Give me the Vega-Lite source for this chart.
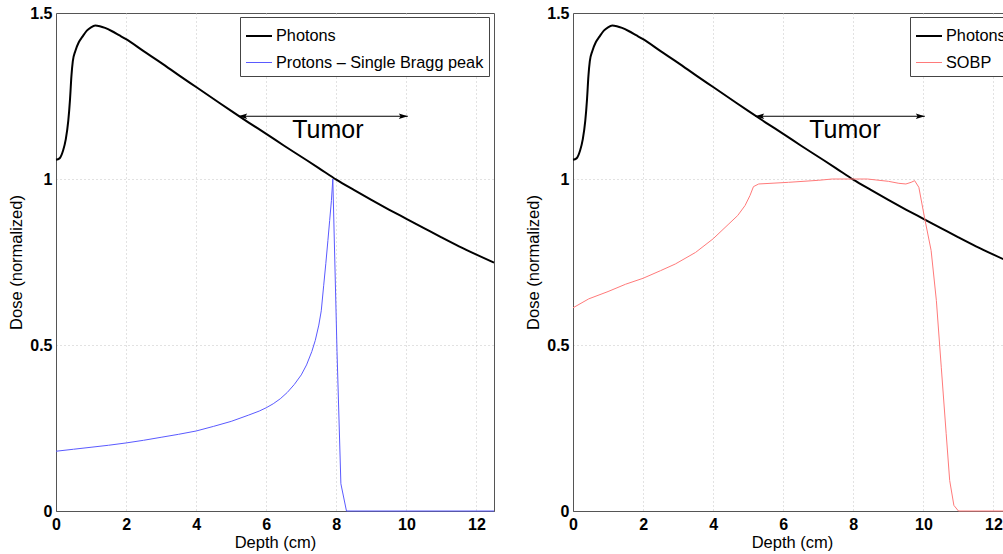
{
  "$schema": "https://vega.github.io/schema/vega-lite/v6.json",
  "background": "white",
  "padding": {"left": 8, "top": 4, "right": 0, "bottom": 0},
  "bounds": "flush",
  "spacing": 79,
  "config": {
    "font": "Liberation Sans",
    "view": {"stroke": "#555", "strokeWidth": 1},
    "axis": {
      "domainColor": "#555",
      "grid": true,
      "gridColor": "#c4c4c4",
      "gridDash": [1, 3],
      "ticks": false,
      "labelFlush": false,
      "labelFont": "Liberation Sans",
      "labelFontSize": 16,
      "labelFontWeight": "bold",
      "labelColor": "#000",
      "titleFont": "Liberation Sans",
      "titleFontSize": 16.5,
      "titleFontWeight": "normal",
      "titleColor": "#000"
    },
    "legend": {
      "symbolType": "stroke",
      "symbolSize": 676,
      "labelFont": "Liberation Sans",
      "labelFontSize": 16.3,
      "labelLimit": 0,
      "labelColor": "#000",
      "strokeColor": "#444",
      "fillColor": "#fff",
      "padding": 5,
      "rowPadding": 4,
      "labelOffset": 3,
      "cornerRadius": 0
    }
  },
  "datasets": {
    "photons": [
      {"depth": 0, "dose": 1.058, "series": "Photons"},
      {"depth": 0.1, "dose": 1.062, "series": "Photons"},
      {"depth": 0.2, "dose": 1.085, "series": "Photons"},
      {"depth": 0.28, "dose": 1.12, "series": "Photons"},
      {"depth": 0.35, "dose": 1.175, "series": "Photons"},
      {"depth": 0.4, "dose": 1.24, "series": "Photons"},
      {"depth": 0.44, "dose": 1.31, "series": "Photons"},
      {"depth": 0.48, "dose": 1.355, "series": "Photons"},
      {"depth": 0.55, "dose": 1.385, "series": "Photons"},
      {"depth": 0.65, "dose": 1.412, "series": "Photons"},
      {"depth": 0.75, "dose": 1.428, "series": "Photons"},
      {"depth": 0.88, "dose": 1.447, "series": "Photons"},
      {"depth": 1.0, "dose": 1.457, "series": "Photons"},
      {"depth": 1.12, "dose": 1.462, "series": "Photons"},
      {"depth": 1.25, "dose": 1.46, "series": "Photons"},
      {"depth": 1.4, "dose": 1.455, "series": "Photons"},
      {"depth": 1.6, "dose": 1.445, "series": "Photons"},
      {"depth": 1.8, "dose": 1.433, "series": "Photons"},
      {"depth": 2.0, "dose": 1.421, "series": "Photons"},
      {"depth": 2.5, "dose": 1.385, "series": "Photons"},
      {"depth": 3.0, "dose": 1.35, "series": "Photons"},
      {"depth": 3.5, "dose": 1.313, "series": "Photons"},
      {"depth": 4.0, "dose": 1.277, "series": "Photons"},
      {"depth": 4.5, "dose": 1.241, "series": "Photons"},
      {"depth": 5.0, "dose": 1.205, "series": "Photons"},
      {"depth": 5.5, "dose": 1.17, "series": "Photons"},
      {"depth": 6.0, "dose": 1.136, "series": "Photons"},
      {"depth": 6.5, "dose": 1.101, "series": "Photons"},
      {"depth": 7.0, "dose": 1.067, "series": "Photons"},
      {"depth": 7.5, "dose": 1.033, "series": "Photons"},
      {"depth": 8.0, "dose": 0.998, "series": "Photons"},
      {"depth": 8.5, "dose": 0.967, "series": "Photons"},
      {"depth": 9.0, "dose": 0.937, "series": "Photons"},
      {"depth": 9.5, "dose": 0.908, "series": "Photons"},
      {"depth": 10.0, "dose": 0.88, "series": "Photons"},
      {"depth": 10.5, "dose": 0.852, "series": "Photons"},
      {"depth": 11.0, "dose": 0.824, "series": "Photons"},
      {"depth": 11.5, "dose": 0.797, "series": "Photons"},
      {"depth": 12.0, "dose": 0.772, "series": "Photons"},
      {"depth": 12.5, "dose": 0.748, "series": "Photons"}
    ],
    "protons": [
      {"depth": 0, "dose": 0.18, "series": "Protons – Single Bragg peak"},
      {"depth": 0.5, "dose": 0.186, "series": "Protons – Single Bragg peak"},
      {"depth": 1, "dose": 0.192, "series": "Protons – Single Bragg peak"},
      {"depth": 1.5, "dose": 0.198, "series": "Protons – Single Bragg peak"},
      {"depth": 2, "dose": 0.205, "series": "Protons – Single Bragg peak"},
      {"depth": 2.5, "dose": 0.213, "series": "Protons – Single Bragg peak"},
      {"depth": 3, "dose": 0.222, "series": "Protons – Single Bragg peak"},
      {"depth": 3.5, "dose": 0.231, "series": "Protons – Single Bragg peak"},
      {"depth": 4, "dose": 0.241, "series": "Protons – Single Bragg peak"},
      {"depth": 4.5, "dose": 0.255, "series": "Protons – Single Bragg peak"},
      {"depth": 5, "dose": 0.27, "series": "Protons – Single Bragg peak"},
      {"depth": 5.5, "dose": 0.289, "series": "Protons – Single Bragg peak"},
      {"depth": 5.8, "dose": 0.301, "series": "Protons – Single Bragg peak"},
      {"depth": 6, "dose": 0.311, "series": "Protons – Single Bragg peak"},
      {"depth": 6.2, "dose": 0.323, "series": "Protons – Single Bragg peak"},
      {"depth": 6.4, "dose": 0.338, "series": "Protons – Single Bragg peak"},
      {"depth": 6.6, "dose": 0.357, "series": "Protons – Single Bragg peak"},
      {"depth": 6.8, "dose": 0.381, "series": "Protons – Single Bragg peak"},
      {"depth": 7.0, "dose": 0.41, "series": "Protons – Single Bragg peak"},
      {"depth": 7.15, "dose": 0.44, "series": "Protons – Single Bragg peak"},
      {"depth": 7.3, "dose": 0.48, "series": "Protons – Single Bragg peak"},
      {"depth": 7.4, "dose": 0.514, "series": "Protons – Single Bragg peak"},
      {"depth": 7.5, "dose": 0.56, "series": "Protons – Single Bragg peak"},
      {"depth": 7.57, "dose": 0.603, "series": "Protons – Single Bragg peak"},
      {"depth": 7.64, "dose": 0.68, "series": "Protons – Single Bragg peak"},
      {"depth": 7.7, "dose": 0.745, "series": "Protons – Single Bragg peak"},
      {"depth": 7.76, "dose": 0.815, "series": "Protons – Single Bragg peak"},
      {"depth": 7.81, "dose": 0.875, "series": "Protons – Single Bragg peak"},
      {"depth": 7.86, "dose": 0.935, "series": "Protons – Single Bragg peak"},
      {"depth": 7.9, "dose": 1.0, "series": "Protons – Single Bragg peak"},
      {"depth": 8.02, "dose": 0.48, "series": "Protons – Single Bragg peak"},
      {"depth": 8.13, "dose": 0.082, "series": "Protons – Single Bragg peak"},
      {"depth": 8.29, "dose": 0, "series": "Protons – Single Bragg peak"},
      {"depth": 12.5, "dose": 0, "series": "Protons – Single Bragg peak"}
    ],
    "sobp": [
      {"depth": 0, "dose": 0.612, "series": "SOBP"},
      {"depth": 0.45, "dose": 0.639, "series": "SOBP"},
      {"depth": 1, "dose": 0.661, "series": "SOBP"},
      {"depth": 1.5, "dose": 0.683, "series": "SOBP"},
      {"depth": 2, "dose": 0.701, "series": "SOBP"},
      {"depth": 2.5, "dose": 0.724, "series": "SOBP"},
      {"depth": 2.92, "dose": 0.744, "series": "SOBP"},
      {"depth": 3.5, "dose": 0.779, "series": "SOBP"},
      {"depth": 4, "dose": 0.82, "series": "SOBP"},
      {"depth": 4.45, "dose": 0.865, "series": "SOBP"},
      {"depth": 4.7, "dose": 0.89, "series": "SOBP"},
      {"depth": 4.91, "dose": 0.92, "series": "SOBP"},
      {"depth": 5.05, "dose": 0.95, "series": "SOBP"},
      {"depth": 5.15, "dose": 0.977, "series": "SOBP"},
      {"depth": 5.3, "dose": 0.985, "series": "SOBP"},
      {"depth": 6.15, "dose": 0.99, "series": "SOBP"},
      {"depth": 7.0, "dose": 0.996, "series": "SOBP"},
      {"depth": 7.4, "dose": 1.0, "series": "SOBP"},
      {"depth": 8.4, "dose": 1.0, "series": "SOBP"},
      {"depth": 9.0, "dose": 0.993, "series": "SOBP"},
      {"depth": 9.3, "dose": 0.987, "series": "SOBP"},
      {"depth": 9.5, "dose": 0.985, "series": "SOBP"},
      {"depth": 9.65, "dose": 0.99, "series": "SOBP"},
      {"depth": 9.75, "dose": 0.995, "series": "SOBP"},
      {"depth": 9.87, "dose": 0.975, "series": "SOBP"},
      {"depth": 10.03, "dose": 0.885, "series": "SOBP"},
      {"depth": 10.22, "dose": 0.785, "series": "SOBP"},
      {"depth": 10.37, "dose": 0.634, "series": "SOBP"},
      {"depth": 10.51, "dose": 0.433, "series": "SOBP"},
      {"depth": 10.65, "dose": 0.233, "series": "SOBP"},
      {"depth": 10.75, "dose": 0.092, "series": "SOBP"},
      {"depth": 10.87, "dose": 0.017, "series": "SOBP"},
      {"depth": 11.0, "dose": 0, "series": "SOBP"},
      {"depth": 12.5, "dose": 0, "series": "SOBP"}
    ],
    "tumorSpan": [
      {"depth": 5.2, "depth2": 10.04, "dose": 1.189}
    ],
    "tumorLabel": [
      {"depth": 7.76, "dose": 1.122, "label": "Tumor"}
    ]
  },
  "hconcat": [
    {
      "width": 438,
      "height": 498,
      "layer": [
        {
          "data": {"name": "photons"},
          "mark": {"type": "line", "interpolate": "monotone"},
          "encoding": {
            "x": {"field": "depth", "type": "quantitative", "scale": {"domain": [0, 12.5], "nice": false, "zero": false}, "axis": {"title": "Depth (cm)", "values": [0, 2, 4, 6, 8, 10, 12], "format": "d", "labelPadding": 5, "titlePadding": 2}},
            "y": {"field": "dose", "type": "quantitative", "scale": {"domain": [0, 1.5], "nice": false}, "axis": {"title": "Dose (normalized)", "values": [0, 0.5, 1, 1.5], "format": "~g", "labelPadding": 4, "titlePadding": 5, "gridOpacity": {"condition": {"test": "datum.value >= 1.5", "value": 0}, "value": 1}}},
            "color": {"field": "series", "type": "nominal", "scale": {"domain": ["Photons", "Protons – Single Bragg peak"], "range": ["#000000", "#5a5aff"]}, "legend": {"title": null, "orient": "none", "legendX": 184, "legendY": 4}},
            "strokeWidth": {"field": "series", "type": "nominal", "scale": {"domain": ["Photons", "Protons – Single Bragg peak"], "range": [2, 1]}, "legend": {"title": null, "orient": "none", "legendX": 184, "legendY": 4}}
          }
        },
        {
          "data": {"name": "protons"},
          "mark": {"type": "line", "interpolate": "linear"},
          "encoding": {
            "x": {"field": "depth", "type": "quantitative"},
            "y": {"field": "dose", "type": "quantitative"},
            "color": {"field": "series", "type": "nominal"},
            "strokeWidth": {"field": "series", "type": "nominal"}
          }
        },
        {
          "data": {"name": "tumorSpan"},
          "mark": {"type": "rule", "color": "#000", "strokeWidth": 1},
          "encoding": {
            "x": {"field": "depth", "type": "quantitative"},
            "x2": {"field": "depth2"},
            "y": {"field": "dose", "type": "quantitative"}
          }
        },
        {
          "data": {"name": "tumorSpan"},
          "mark": {"type": "point", "shape": "M0,0 L1,-0.3 L0.8,0 L1,0.3 Z", "size": 324, "filled": true, "color": "#000", "opacity": 1},
          "encoding": {
            "x": {"field": "depth", "type": "quantitative"},
            "y": {"field": "dose", "type": "quantitative"}
          }
        },
        {
          "data": {"name": "tumorSpan"},
          "mark": {"type": "point", "shape": "M0,0 L-1,-0.3 L-0.8,0 L-1,0.3 Z", "size": 324, "filled": true, "color": "#000", "opacity": 1},
          "encoding": {
            "x": {"field": "depth2", "type": "quantitative"},
            "y": {"field": "dose", "type": "quantitative"}
          }
        },
        {
          "data": {"name": "tumorLabel"},
          "mark": {"type": "text", "font": "Liberation Sans", "fontSize": 25, "align": "center", "baseline": "alphabetic", "color": "#000"},
          "encoding": {
            "x": {"field": "depth", "type": "quantitative"},
            "y": {"field": "dose", "type": "quantitative"},
            "text": {"field": "label"}
          }
        }
      ]
    },
    {
      "width": 438,
      "height": 498,
      "layer": [
        {
          "data": {"name": "photons"},
          "mark": {"type": "line", "interpolate": "monotone"},
          "encoding": {
            "x": {"field": "depth", "type": "quantitative", "scale": {"domain": [0, 12.5], "nice": false, "zero": false}, "axis": {"title": "Depth (cm)", "values": [0, 2, 4, 6, 8, 10, 12], "format": "d", "labelPadding": 5, "titlePadding": 2}},
            "y": {"field": "dose", "type": "quantitative", "scale": {"domain": [0, 1.5], "nice": false}, "axis": {"title": "Dose (normalized)", "values": [0, 0.5, 1, 1.5], "format": "~g", "labelPadding": 4, "titlePadding": 5, "gridOpacity": {"condition": {"test": "datum.value >= 1.5", "value": 0}, "value": 1}}},
            "color": {"field": "series", "type": "nominal", "scale": {"domain": ["Photons", "SOBP"], "range": ["#000000", "#ff7a7a"]}, "legend": {"title": null, "orient": "none", "legendX": 337, "legendY": 4}},
            "strokeWidth": {"field": "series", "type": "nominal", "scale": {"domain": ["Photons", "SOBP"], "range": [2, 1]}, "legend": {"title": null, "orient": "none", "legendX": 337, "legendY": 4}}
          }
        },
        {
          "data": {"name": "sobp"},
          "mark": {"type": "line", "interpolate": "linear"},
          "encoding": {
            "x": {"field": "depth", "type": "quantitative"},
            "y": {"field": "dose", "type": "quantitative"},
            "color": {"field": "series", "type": "nominal"},
            "strokeWidth": {"field": "series", "type": "nominal"}
          }
        },
        {
          "data": {"name": "tumorSpan"},
          "mark": {"type": "rule", "color": "#000", "strokeWidth": 1},
          "encoding": {
            "x": {"field": "depth", "type": "quantitative"},
            "x2": {"field": "depth2"},
            "y": {"field": "dose", "type": "quantitative"}
          }
        },
        {
          "data": {"name": "tumorSpan"},
          "mark": {"type": "point", "shape": "M0,0 L1,-0.3 L0.8,0 L1,0.3 Z", "size": 324, "filled": true, "color": "#000", "opacity": 1},
          "encoding": {
            "x": {"field": "depth", "type": "quantitative"},
            "y": {"field": "dose", "type": "quantitative"}
          }
        },
        {
          "data": {"name": "tumorSpan"},
          "mark": {"type": "point", "shape": "M0,0 L-1,-0.3 L-0.8,0 L-1,0.3 Z", "size": 324, "filled": true, "color": "#000", "opacity": 1},
          "encoding": {
            "x": {"field": "depth2", "type": "quantitative"},
            "y": {"field": "dose", "type": "quantitative"}
          }
        },
        {
          "data": {"name": "tumorLabel"},
          "mark": {"type": "text", "font": "Liberation Sans", "fontSize": 25, "align": "center", "baseline": "alphabetic", "color": "#000"},
          "encoding": {
            "x": {"field": "depth", "type": "quantitative"},
            "y": {"field": "dose", "type": "quantitative"},
            "text": {"field": "label"}
          }
        }
      ]
    }
  ],
  "resolve": {"scale": {"color": "independent", "strokeWidth": "independent"}}
}
